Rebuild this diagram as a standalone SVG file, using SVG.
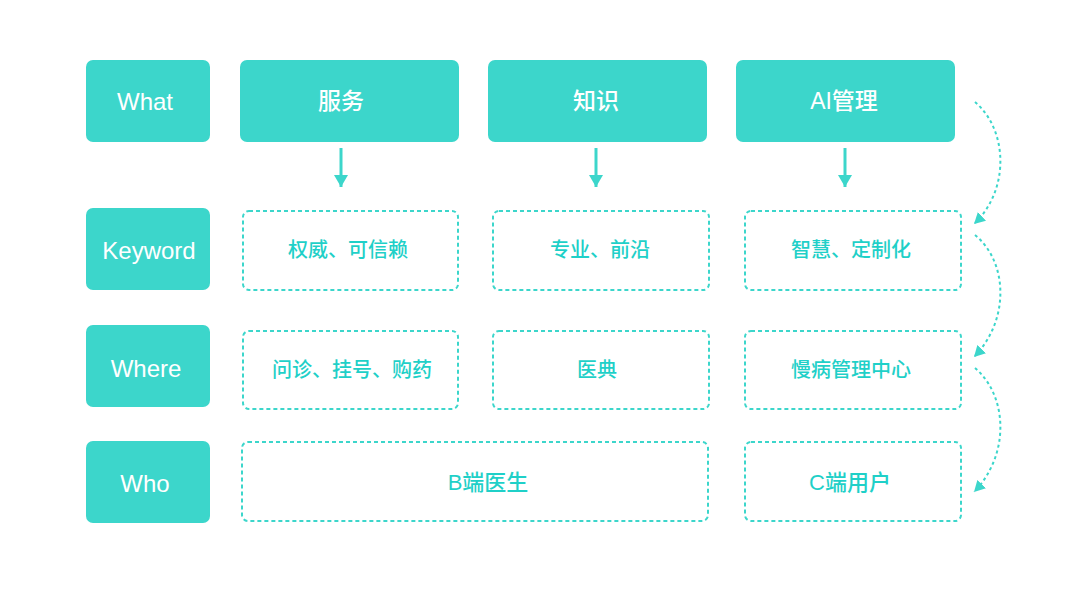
<svg xmlns="http://www.w3.org/2000/svg" width="1080" height="598" viewBox="0 0 1080 598">
<defs>
<style>
.solid{fill:#3CD6CB;}
.dash{fill:#fff;stroke:#3CD6CB;stroke-width:2;stroke-dasharray:4 3;}
.wt{fill:#fff;font-family:"Liberation Sans","Noto Sans CJK SC",sans-serif;font-size:23px;font-weight:500;text-anchor:middle;dominant-baseline:central;}
.lat{font-size:24px;}
.tt{fill:#1FD0C8;font-family:"Liberation Sans","Noto Sans CJK SC",sans-serif;font-size:20px;font-weight:500;text-anchor:middle;dominant-baseline:central;}
.big{font-size:22px;}
.arr{stroke:#3CD6CB;stroke-width:3;fill:none;}
.curve{stroke:#3CD6CB;stroke-width:2;fill:none;stroke-dasharray:3 3;}
</style>
<marker id="ah" viewBox="0 0 12 14" refX="12" refY="7" markerWidth="12" markerHeight="14" markerUnits="userSpaceOnUse" orient="auto">
<path d="M0,0 L12,7 L0,14 Z" fill="#3CD6CB"/>
</marker>
<marker id="ah2" viewBox="0 0 11 12" refX="11" refY="6" markerWidth="11" markerHeight="12" markerUnits="userSpaceOnUse" orient="auto">
<path d="M0,0 L11,6 L0,12 Z" fill="#3CD6CB"/>
</marker>
</defs>
<rect width="1080" height="598" fill="#fff"/>
<g id="what"><rect class="solid" x="86" y="60" width="124" height="82" rx="7"/><text class="wt lat" x="145" y="101">What</text></g>
<g id="keyword"><rect class="solid" x="86" y="208" width="124" height="82" rx="7"/><text class="wt lat" x="149" y="250">Keyword</text></g>
<g id="where"><rect class="solid" x="86" y="325" width="124" height="82" rx="7"/><text class="wt lat" x="146" y="368">Where</text></g>
<g id="who"><rect class="solid" x="86" y="441" width="124" height="82" rx="7"/><text class="wt lat" x="145" y="483">Who</text></g>
<g id="fuwu"><rect class="solid" x="240" y="60" width="219" height="82" rx="7"/><text class="wt" x="341" y="101">服务</text></g>
<g id="zhishi"><rect class="solid" x="488" y="60" width="219" height="82" rx="7"/><text class="wt" x="596" y="101">知识</text></g>
<g id="aiguanli"><rect class="solid" x="736" y="60" width="219" height="82" rx="7"/><text class="wt" x="844" y="101">AI管理</text></g>
<g id="kw1"><rect class="dash" x="243" y="211" width="215" height="79" rx="6"/><text class="tt" x="348" y="250">权威、可信赖</text></g>
<g id="kw2"><rect class="dash" x="493" y="211" width="216" height="79" rx="6"/><text class="tt" x="600" y="250">专业、前沿</text></g>
<g id="kw3"><rect class="dash" x="745" y="211" width="216" height="79" rx="6"/><text class="tt" x="851" y="250">智慧、定制化</text></g>
<g id="wh1"><rect class="dash" x="243" y="331" width="215" height="78" rx="6"/><text class="tt" x="352" y="370">问诊、挂号、购药</text></g>
<g id="wh2"><rect class="dash" x="493" y="331" width="216" height="78" rx="6"/><text class="tt" x="597" y="370">医典</text></g>
<g id="wh3"><rect class="dash" x="745" y="331" width="216" height="78" rx="6"/><text class="tt" x="851" y="370">慢病管理中心</text></g>
<g id="who1"><rect class="dash" x="242" y="442" width="466" height="79" rx="6"/><text class="tt big" x="488" y="482">B端医生</text></g>
<g id="who2"><rect class="dash" x="745" y="442" width="216" height="79" rx="6"/><text class="tt big" x="850" y="482">C端用户</text></g>
<g id="connectors">
<line class="arr" x1="341" y1="148" x2="341" y2="187" marker-end="url(#ah)"/>
<line class="arr" x1="596" y1="148" x2="596" y2="187" marker-end="url(#ah)"/>
<line class="arr" x1="845" y1="148" x2="845" y2="187" marker-end="url(#ah)"/>
<path class="curve" d="M975,102 C1008,130 1010,190 974,224" marker-end="url(#ah2)"/>
<path class="curve" d="M975,235 C1008,262 1010,320 974,357" marker-end="url(#ah2)"/>
<path class="curve" d="M975,368 C1008,396 1010,455 974,492" marker-end="url(#ah2)"/>
</g>
</svg>
